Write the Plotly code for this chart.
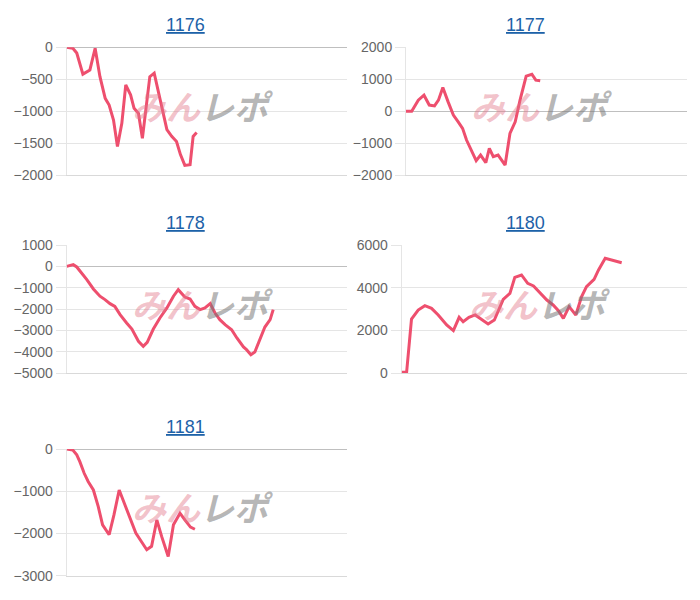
import plotly.graph_objects as go

# ---------------- data ----------------
titles = ["1176", "1177", "1178", "1180", "1181"]

x_1176 = [0, 1.4, 2.3, 3.7, 5.3, 6.5, 7.6, 8.8, 9.7, 10.7, 11.6, 12.6, 13.5, 14.6, 15.4, 16.4,
          17.3, 19.0, 20.0, 22.9, 24.0, 25.1, 26.0, 27.0, 28.2, 28.9, 29.7]
y_1176 = [0, -15, -90, -420, -355, -15, -460, -800, -905, -1140, -1555, -1190, -590, -745, -955,
          -1035, -1425, -460, -405, -1290, -1395, -1475, -1680, -1850, -1840, -1395, -1335]

x_1177 = [0, 1.3, 2.8, 4.1, 5.3, 6.5, 7.4, 8.4, 9.6, 10.8, 11.9, 12.9, 13.8, 15.0, 16.0, 17.0,
          18.2, 19.0, 19.9, 21.0, 22.6, 23.7, 24.9, 26.0, 27.4, 28.7, 29.6, 30.6]
y_1177 = [0, 0, 345, 500, 190, 165, 345, 740, 290, -125, -335, -540, -905, -1270, -1550, -1375,
          -1615, -1165, -1425, -1375, -1690, -700, -335, 345, 1095, 1155, 970, 950]

x_1178 = [0, 1.5, 2.3, 3.4, 4.6, 6.1, 7.6, 8.75, 9.9, 11.0, 12.2, 13.7, 14.9, 16.4, 17.5, 18.4,
          19.8, 21.3, 22.9, 24.4, 25.5, 27.0, 28.2, 29.3, 30.5, 31.6, 32.8, 33.9, 35.0, 36.2,
          37.7, 38.9, 40.4, 41.1, 42.1, 43.0, 44.2, 45.3, 46.5, 47.2]
y_1178 = [0, 80, -30, -310, -625, -1060, -1400, -1560, -1750, -1875, -2265, -2655, -2940, -3515,
          -3750, -3560, -2940, -2420, -1950, -1400, -1095, -1440, -1530, -1875, -2030, -1950,
          -1750, -2190, -2500, -2735, -2970, -3360, -3780, -3905, -4140, -4015, -3440, -2845,
          -2500, -2030]

x_1180 = [0, 1.1, 2.2, 3.7, 5.2, 6.7, 8.2, 10.1, 11.6, 12.9, 13.8, 15.1, 16.5, 18.0, 19.4, 20.8,
          21.7, 22.8, 24.3, 25.4, 26.9, 28.3, 29.6, 31.1, 32.6, 34.0, 35.2, 36.3, 37.6, 39.1,
          40.4, 41.5, 43.2, 44.2, 45.7, 49.4]
y_1180 = [30, 30, 2530, 2950, 3155, 3030, 2720, 2250, 1985, 2610, 2405, 2610, 2720, 2485, 2295,
          2485, 2950, 3450, 3735, 4485, 4595, 4200, 4080, 3735, 3420, 3190, 2920, 2560, 3110,
          2720, 3580, 4045, 4390, 4830, 5375, 5170]

x_1181 = [0, 1.4, 2.3, 3.0, 4.0, 4.9, 6.1, 7.2, 8.2, 9.7, 10.8, 12.0, 13.3, 14.5, 15.8, 16.8,
          18.3, 19.4, 20.6, 21.7, 23.2, 24.4, 25.9, 27.0, 28.3, 29.3]
y_1181 = [0, -25, -140, -300, -575, -770, -970, -1360, -1795, -2030, -1560, -970, -1320, -1640,
          -1990, -2150, -2385, -2305, -1680, -2070, -2545, -1795, -1520, -1680, -1850, -1900]

y_ranges = [[-2000, 0], [-2000, 2000], [-5000, 1000], [0, 6000], [-3000, 0]]
y_dticks = [500, 1000, 1000, 2000, 1000]
x_range = [0, 64]

# ---------------- layout helpers ----------------
W, H = 700, 600
LINE = "#ee4f6e"
GRID = "rgba(0,0,0,0.1)"
ZERO = "rgba(0,0,0,0.25)"
TITLE_BLUE = "#1d62a8"
FONT = "Arial, Liberation Sans, sans-serif"


def px(v):
    return v / W


def py(v):
    return 1 - v / H


# pixel boxes: (left, right, top, bottom), title centre (x, y)
boxes = [
    ((66.7, 346.7, 47.3, 175.0), (185, 25)),
    ((406.0, 686.7, 47.3, 175.0), (525, 25)),
    ((66.7, 346.7, 245.0, 373.0), (185, 223)),
    ((401.7, 686.7, 245.0, 373.0), (525, 223)),
    ((66.7, 346.7, 449.0, 575.7), (185, 427)),
]

series = [(x_1176, y_1176), (x_1177, y_1177), (x_1178, y_1178), (x_1180, y_1180), (x_1181, y_1181)]

fig = go.Figure()
layout = dict(
    template="none",
    width=W, height=H,
    margin=dict(l=0, r=0, t=0, b=0, pad=0, autoexpand=False),
    paper_bgcolor="white", plot_bgcolor="white",
    showlegend=False,
    font=dict(family=FONT, color="#666666", size=14),
)
annotations = []

for i, ((xs, ys), ((l, r, t, b), (tx, ty)), yr, dt, title) in enumerate(
        zip(series, boxes, y_ranges, y_dticks, titles), start=1):
    xa = "x" if i == 1 else f"x{i}"
    ya = "y" if i == 1 else f"y{i}"
    fig.add_trace(go.Scatter(x=xs, y=ys, mode="lines", xaxis=xa, yaxis=ya,
                             line=dict(color=LINE, width=3), hoverinfo="skip"))
    xname = "xaxis" if i == 1 else f"xaxis{i}"
    yname = "yaxis" if i == 1 else f"yaxis{i}"
    layout[xname] = dict(domain=[px(l), px(r)], range=x_range, anchor=ya,
                         automargin=False,
                         showgrid=False, zeroline=False, showticklabels=False, ticks="",
                         showline=True, linecolor="rgba(0,0,0,0.15)", linewidth=1,
                         fixedrange=True)
    layout[yname] = dict(domain=[py(b), py(t)], range=yr, anchor=xa, dtick=dt, tick0=0,
                         automargin=False,
                         showgrid=True, gridcolor=GRID, gridwidth=1,
                         zeroline=True, zerolinecolor=ZERO, zerolinewidth=1,
                         showline=True, linecolor=GRID, linewidth=1,
                         ticks="outside", ticklen=10, tickcolor=GRID, tickwidth=1,
                         tickfont=dict(family=FONT, size=14, color="#666666"),
                         fixedrange=True)
    annotations.append(dict(text=f"<u>{title}</u>", xref="paper", yref="paper",
                            x=px(tx), y=py(ty), xanchor="center", yanchor="middle",
                            showarrow=False,
                            font=dict(family=FONT, size=18, color=TITLE_BLUE)))
    # watermark
    annotations.append(dict(
        text="<span style='color:rgba(226,120,138,0.45)'>みん</span>"
             "<span style='color:rgba(120,120,120,0.55)'>レポ</span>",
        xref="paper", yref="paper",
        x=px((l + r) / 2 - 4), y=py((t + b) / 2 - 6),
        xanchor="center", yanchor="middle", showarrow=False,
        font=dict(family="Noto Sans CJK JP", size=34, weight="bold", style="italic")))

layout["annotations"] = annotations
fig.update_layout(**layout)
fig.write_html("out.html", config={"displayModeBar": False},
               post_script="document.body.style.margin='0';document.body.style.overflow='hidden';")
